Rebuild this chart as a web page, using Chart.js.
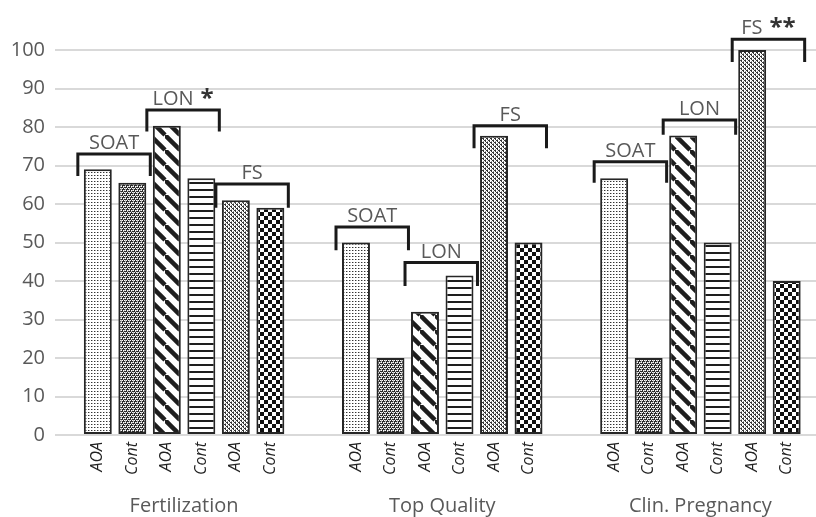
<!DOCTYPE html>
<html>
<head>
<meta charset="utf-8">
<script src="https://cdn.jsdelivr.net/npm/chart.js@4.4.1/dist/chart.umd.min.js"></script>
<style>
  html, body { margin: 0; padding: 0; background: #fff; overflow: hidden; }
  #caja { width: 816px; height: 517px; overflow: hidden; }
</style>
</head>
<body>
<div id="caja">
  <canvas id="grafico" width="840" height="517"></canvas>
</div>
<script>
/* ============================
   DATOS
   ============================ */
const grupos = ["Fertilization", "Top Quality", "Clin. Pregnancy"];
const subEtiquetas = ["AOA", "Cont", "AOA", "Cont", "AOA", "Cont"];

// una serie por barra dentro de cada grupo
const soatAOA  = [69, 50, 66.7];
const soatCont = [65.5, 20, 20];
const lonAOA   = [80.3, 32, 77.8];
const lonCont  = [66.7, 41.4, 50];
const fsAOA    = [61, 77.7, 100];
const fsCont   = [59, 50, 40];

const ticksY = [0, 10, 20, 30, 40, 50, 60, 70, 80, 90, 100];

// corchetes: [grupo][par]
const corcheteTexto  = ["SOAT", "LON", "FS"];
const corcheteArriba = [[73, 84.4, 65.2], [54, 44.8, 80.3], [71, 81.8, 102.8]];
const corcheteAbajo  = [[67.3, 78.8, 59], [48, 38.7, 74.5], [65.5, 78, 96.9]];
const asteriscos     = [["", "*", ""], ["", "", ""], ["", "", "**"]];

/* ============================
   TRAMAS
   ============================ */
const OSCURO = "#1e1e1e";

function trama(tipo) {
  const c = document.createElement("canvas");
  const g = c.getContext("2d");
  if (tipo === "puntos") {
    c.width = 3; c.height = 3;
    g.fillStyle = "#fff"; g.fillRect(0, 0, 3, 3);
    g.fillStyle = "#333"; g.fillRect(1, 1, 1, 1);
    g.fillStyle = "#aaa"; g.fillRect(2, 1, 1, 1);
  } else if (tipo === "denso") {
    c.width = 4; c.height = 4;
    g.fillStyle = "#2a2a2a"; g.fillRect(0, 0, 4, 4);
    g.fillStyle = "#fff";
    g.fillRect(0, 0, 1, 1); g.fillRect(2, 0, 1, 1);
    g.fillRect(1, 2, 1, 1); g.fillRect(3, 2, 1, 1);
    g.fillStyle = "#bbb";
    g.fillRect(1, 0, 1, 1); g.fillRect(0, 2, 1, 1);
    g.fillRect(1, 1, 1, 1); g.fillRect(3, 3, 1, 1);
  } else if (tipo === "diagonal") {
    const s = 15;
    c.width = s; c.height = s;
    g.fillStyle = "#fff"; g.fillRect(0, 0, s, s);
    g.strokeStyle = OSCURO; g.lineWidth = 4.5;
    [[-s, 0], [0, 0], [0, -s]].forEach(([dx, dy]) => {
      g.beginPath();
      g.moveTo(dx, dy);
      g.lineTo(dx + s, dy + s);
      g.stroke();
    });
  } else if (tipo === "horizontal") {
    c.width = 4; c.height = 7;
    g.fillStyle = "#fff"; g.fillRect(0, 0, 4, 7);
    g.fillStyle = OSCURO; g.fillRect(0, 0, 4, 2);
  } else if (tipo === "moteado") {
    c.width = 4; c.height = 4;
    g.fillStyle = "#fff"; g.fillRect(0, 0, 4, 4);
    g.fillStyle = "#333";
    g.fillRect(0, 0, 2, 1); g.fillRect(2, 2, 2, 1);
    g.fillRect(1, 1, 1, 1); g.fillRect(3, 3, 1, 1);
    g.fillStyle = "#999";
    g.fillRect(3, 1, 1, 1); g.fillRect(1, 3, 1, 1);
  } else if (tipo === "ajedrez") {
    c.width = 8; c.height = 8;
    g.fillStyle = "#fff"; g.fillRect(0, 0, 8, 8);
    g.fillStyle = "#111";
    g.fillRect(0, 0, 4, 4); g.fillRect(4, 4, 4, 4);
  }
  return g.createPattern(c, "repeat");
}

/* ============================
   PLUGIN: etiquetas y corchetes
   ============================ */
const FUENTE = "'Open Sans', 'DejaVu Sans', sans-serif";
const GRIS = "#595959";
const TAM = 20;

const anotaciones = {
  id: "anotaciones",
  afterDraw(chart) {
    const ctx = chart.ctx;
    const y = chart.scales.y;
    const x = chart.scales.x;
    const abajo = chart.chartArea.bottom;

    ctx.save();

    // AOA / Cont girados debajo de cada barra
    ctx.fillStyle = "#222";
    ctx.font = "italic 16px " + FUENTE;
    ctx.textAlign = "right";
    ctx.textBaseline = "middle";
    for (let d = 0; d < subEtiquetas.length; d++) {
      const meta = chart.getDatasetMeta(d);
      meta.data.forEach(barra => {
        ctx.save();
        ctx.translate(barra.x, abajo + 7);
        ctx.rotate(-Math.PI / 2);
        ctx.fillText(subEtiquetas[d], 0, 0);
        ctx.restore();
      });
    }

    // nombres de los grupos
    ctx.fillStyle = GRIS;
    ctx.font = TAM + "px " + FUENTE;
    ctx.textAlign = "center";
    ctx.textBaseline = "alphabetic";
    grupos.forEach((nombre, i) => {
      ctx.fillText(nombre, x.getPixelForValue(i), 512);
    });

    // corchetes
    ctx.strokeStyle = "#1a1a1a";
    ctx.lineWidth = 3;
    ctx.lineCap = "butt";
    ctx.lineJoin = "miter";
    for (let g = 0; g < grupos.length; g++) {
      for (let p = 0; p < 3; p++) {
        const b1 = chart.getDatasetMeta(2 * p).data[g];
        const b2 = chart.getDatasetMeta(2 * p + 1).data[g];
        const izq = b1.x - b1.width / 2 - 6;
        const der = b2.x + b2.width / 2 + 4;
        const yArr = y.getPixelForValue(corcheteArriba[g][p]);
        const yAbj = y.getPixelForValue(corcheteAbajo[g][p]);

        ctx.beginPath();
        ctx.moveTo(izq, yAbj);
        ctx.lineTo(izq, yArr);
        ctx.lineTo(der, yArr);
        ctx.lineTo(der, yAbj);
        ctx.stroke();

        // texto + asteriscos centrados sobre el corchete
        const texto = corcheteTexto[p];
        const ast = asteriscos[g][p];
        ctx.font = TAM + "px " + FUENTE;
        const w1 = ctx.measureText(texto).width;
        ctx.font = "bold 24px " + FUENTE;
        const w2 = ast ? ctx.measureText(ast).width + 7 : 0;
        const inicio = (izq + der) / 2 - (w1 + w2) / 2;

        ctx.textAlign = "left";
        ctx.fillStyle = GRIS;
        ctx.font = TAM + "px " + FUENTE;
        ctx.fillText(texto, inicio, yArr - 5);
        if (ast) {
          ctx.fillStyle = "#333";
          ctx.font = "bold 24px " + FUENTE;
          ctx.fillText(ast, inicio + w1 + 7, yArr - 4);
        }
      }
    }

    ctx.restore();
  }
};

/* ============================
   GRÁFICO
   ============================ */
const lienzo = document.getElementById("grafico");
const ctx = lienzo.getContext("2d");

const series = [soatAOA, soatCont, lonAOA, lonCont, fsAOA, fsCont];
const tramas = ["puntos", "denso", "diagonal", "horizontal", "moteado", "ajedrez"];

new Chart(ctx, {
  type: "bar",
  data: {
    labels: grupos,
    datasets: series.map((valores, i) => ({
      label: subEtiquetas[i],
      data: valores,
      backgroundColor: trama(tramas[i]),
      borderColor: "#262626",
      borderWidth: 2,
      borderSkipped: false,
      categoryPercentage: 0.802,
      barPercentage: 0.81
    }))
  },
  options: {
    responsive: false,
    animation: false,
    devicePixelRatio: 1,
    layout: { padding: { top: 50, bottom: 82, left: 0, right: 10.5 } },
    plugins: {
      legend: { display: false },
      tooltip: { enabled: false }
    },
    scales: {
      x: {
        display: false,
        offset: true
      },
      y: {
        min: 0,
        max: 100,
        afterBuildTicks(scale) {
          scale.ticks = ticksY.map(v => ({ value: v }));
        },
        afterFit(scale) {
          scale.width = 55;
        },
        border: { display: false },
        grid: {
          color: "#d9d9d9",
          lineWidth: 2,
          drawTicks: false
        },
        ticks: {
          padding: 10,
          color: GRIS,
          font: { family: "'Open Sans', 'DejaVu Sans', sans-serif", size: TAM }
        }
      }
    }
  },
  plugins: [anotaciones]
});
</script>
</body>
</html>
